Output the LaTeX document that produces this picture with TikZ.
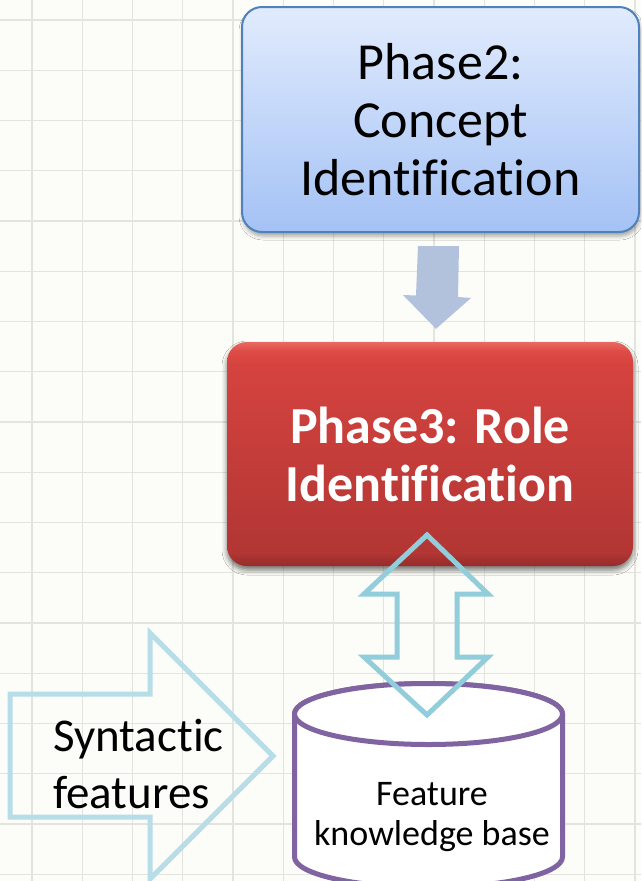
\documentclass[tikz,border=0pt]{standalone}
\usepackage{fontspec}
\setmainfont[Ligatures=NoCommon]{Carlito}
\usetikzlibrary{calc,shadows.blur}

\definecolor{paper}{HTML}{FCFCF8}
\definecolor{gridgray}{HTML}{E4E4DE}
\definecolor{blueTop}{HTML}{E1EBFD}
\definecolor{blueBot}{HTML}{A4C2F5}
\definecolor{blueEdge}{HTML}{4F81BD}
\definecolor{redHi}{HTML}{E86A63}
\definecolor{redTop}{HTML}{DF4B47}
\definecolor{redMid}{HTML}{D5433F}
\definecolor{redLow}{HTML}{B23634}
\definecolor{redEdge}{HTML}{952C2A}
\definecolor{flowFill}{HTML}{B3C2DC}
\definecolor{linkBlue}{HTML}{92CDDC}
\definecolor{inBlue}{HTML}{B7DDE8}
\definecolor{kbPurple}{HTML}{8064A2}

% bevelled red fill: the path spans 25bp (bottom) to 75bp (top)
\pgfdeclareverticalshading{redbevel}{100bp}{%
  color(0bp)=(redEdge); color(25bp)=(redEdge); color(28bp)=(redLow);
  color(45bp)=(redLow!60!redMid); color(70bp)=(redMid); color(73bp)=(redTop);
  color(75bp)=(redHi); color(100bp)=(redHi)}

\tikzset{
  gridl/.style={gridgray, line width=1.4pt},
  bluebox/.style={draw=blueEdge, line width=2pt, rounded corners=20pt,
    top color=blueTop, bottom color=blueBot,
    minimum width=397pt, minimum height=225pt, align=center,
    font=\fontsize{52}{58}\selectfont,
    blur shadow={shadow xshift=1pt, shadow yshift=-4pt, shadow blur radius=4pt, shadow opacity=35}},
  redbox/.style={rounded corners=20pt, shading=redbevel,
    minimum width=406pt, minimum height=224pt, align=center, text=white,
    font=\fontsize{52}{58}\selectfont\bfseries,
    blur shadow={shadow xshift=0pt, shadow yshift=-4pt, shadow blur radius=5pt, shadow opacity=55}},
  flowarrow/.style={fill=flowFill},
  linkarrow/.style={draw=linkBlue, line width=5pt, line join=miter},
  inarrow/.style={draw=inBlue, line width=5pt, line join=miter},
  kbshape/.style={draw=kbPurple, line width=5pt, fill=white},
  kblabel/.style={align=center, inner sep=0pt, font=\fontsize{36}{40}\selectfont},
  inlabel/.style={align=left, inner sep=0pt, font=\fontsize{47}{57}\selectfont},
}

\begin{document}
\begin{tikzpicture}[x=1pt, y=-1pt]
\useasboundingbox (0,0) rectangle (641,881);
\fill[paper] (0,0) rectangle (641,881);

% squared paper
\foreach \i in {0,...,12} \draw[gridl] ({32+50.25*\i},0) -- ({32+50.25*\i},881);
\foreach \j in {0,...,17} \draw[gridl] (0,{20+50.25*\j}) -- (641,{20+50.25*\j});

% phase boxes
\node[bluebox] (p2) at (440.5,119.5) {Phase2:\\Concept\\Identification};
\node[redbox]  (p3) at (430,454) {Phase3: Role\\Identification};

% block arrow from phase 2 to phase 3
\coordinate (dtail) at ($(p2.south)+(-2,13)$);
\coordinate (dtip)  at ($(p3.north)+(6,-13)$);
\fill[flowarrow] ($(dtail)+(-20.5,0)$) -- ($(dtail)+(20.5,0)$) -- ($(dtail)+(19.5,51)$)
  -- ($(dtail)+(32.5,52)$) -- (dtip) -- ($(dtail)+(-35.5,49)$) -- ($(dtail)+(-22.5,49.5)$) -- cycle;

% knowledge base cylinder (radii are page lengths, so 270 degrees points down)
\coordinate (kb) at (428.5,714);
\draw[kbshape] ($(kb)+(-134,0)$) -- ($(kb)+(-134,143)$)
  arc[start angle=180, end angle=360, x radius=134pt, y radius=30.5pt]
  -- ($(kb)+(134,0)$)
  arc[start angle=0, end angle=180, x radius=134pt, y radius=30.5pt] -- cycle;
\draw[kbshape] (kb) ellipse[x radius=134pt, y radius=30.5pt];
\node[kblabel] (kbtext) at (432,817) {Feature\\knowledge base};

% two-way link between phase 3 and the knowledge base
\coordinate (lup) at (427,535);
\coordinate (ldn) at (427,715);
\draw[linkarrow] (lup) -- ($(lup)+(61,59)$) -- ($(lup)+(30,59)$) -- ($(ldn)+(30,-58)$)
  -- ($(ldn)+(61,-58)$) -- (ldn) -- ($(ldn)+(-63,-58)$) -- ($(ldn)+(-30,-58)$)
  -- ($(lup)+(-30,59)$) -- ($(lup)+(-63,59)$) -- cycle;

% incoming syntactic features
\coordinate (intip) at (273,756);
\draw[inarrow] (10,694) -- (150,694) -- (150,633) -- (intip) -- (150,879) -- (150,817) -- (10,817) -- cycle;
\node[inlabel, anchor=west] (syn) at (53,763.5) {Syntactic\\features};
\end{tikzpicture}
\end{document}
